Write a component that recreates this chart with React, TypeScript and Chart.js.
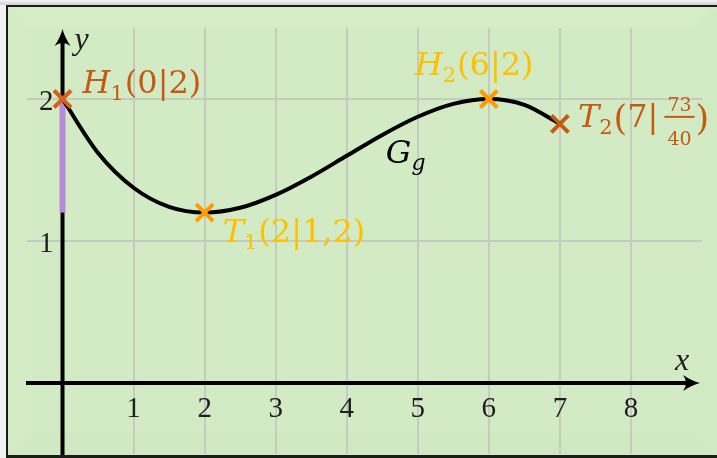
import { useEffect, useRef } from "react";
import { Chart, registerables } from "chart.js";

Chart.register(...registerables);

// Graph G_g, sampled every half unit on [0, 7]
const CURVE_X = [0, 0.5, 1, 1.5, 2, 2.5, 3, 3.5, 4, 4.5, 5, 5.5, 6, 6.5, 7];
const CURVE_Y = [2, 1.62, 1.375, 1.24, 1.2, 1.234, 1.325, 1.453, 1.6, 1.747, 1.875, 1.966, 2, 1.959, 1.825];

// Extreme / end points
const POINT_NAMES = ["H", "T", "H", "T"];
const POINT_INDEX = ["1", "1", "2", "2"];
const POINT_X = [0, 2, 6, 7];
const POINT_Y = [2, 1.2, 2, 1.825];
const POINT_X_TEXT = ["0", "2", "6", "7"];
const POINT_Y_TEXT = ["2", "1,2", "2", "73/40"];

// Axis ticks
const X_TICKS = [1, 2, 3, 4, 5, 6, 7, 8];
const Y_TICKS = [1, 2];

// Highlighted stretch on the y-axis
const SEGMENT_Y = [1.2, 2];

// Styling
const MARKER_COLORS = ["#D4621C", "#FF9A00", "#FF9A00", "#C55A11"];
const LABEL_COLORS = ["#C55A11", "#FFC000", "#FFC000", "#C55A11"];
const LABEL_OFFSETS = [
  [20, -6],
  [18, 29],
  [-74, -24],
  [18, 3],
];
const GRAPH_NAME_AT = { x: 4.55, y: 1.55 };

const LABEL_FONT = "'DejaVu Serif', serif";
const TICK_FONT = "'Liberation Serif', serif";

type Part = { t: string; font: string; dy?: number; gap?: number };

function drawParts(ctx: CanvasRenderingContext2D, x: number, y: number, parts: Part[], color: string) {
  ctx.fillStyle = color;
  ctx.textAlign = "left";
  ctx.textBaseline = "alphabetic";
  let cx = x;
  for (const p of parts) {
    ctx.font = p.font;
    ctx.fillText(p.t, cx, y + (p.dy || 0));
    cx += ctx.measureText(p.t).width + (p.gap || 0);
  }
  return cx;
}

function arrowHead(ctx: CanvasRenderingContext2D, tx: number, ty: number, dirX: number, dirY: number) {
  // stealth-like head pointing along (dirX, dirY)
  const L = 17;
  const W = 8;
  const px = -dirY;
  const py = dirX;
  const bx = tx - dirX * L;
  const by = ty - dirY * L;
  ctx.beginPath();
  ctx.moveTo(tx, ty);
  ctx.quadraticCurveTo(tx - dirX * 8 + px * 2, ty - dirY * 8 + py * 2, bx + px * W, by + py * W);
  ctx.quadraticCurveTo(tx - dirX * 11, ty - dirY * 11, bx - px * W, by - py * W);
  ctx.quadraticCurveTo(tx - dirX * 8 - px * 2, ty - dirY * 8 - py * 2, tx, ty);
  ctx.closePath();
  ctx.fillStyle = "#000";
  ctx.fill();
}

const framePlugin = {
  id: "frame",
  beforeDraw(chart: any) {
    const ctx: CanvasRenderingContext2D = chart.ctx;
    const W = chart.width;
    const H = chart.height;
    ctx.save();
    const top = ctx.createLinearGradient(0, 0, 0, 5);
    top.addColorStop(0, "#f4f4f4");
    top.addColorStop(1, "#cfcfcf");
    ctx.fillStyle = "#f2f2f2";
    ctx.fillRect(0, 0, W, H);
    ctx.fillStyle = top;
    ctx.fillRect(0, 0, W, 5);
    ctx.fillStyle = "#1c1c1c";
    ctx.fillRect(6, 5, W - 6, H - 5);
    // face
    const x0 = 8, y0 = 7, x1 = W, y1 = H - 3;
    ctx.fillStyle = "#d3ebc4";
    ctx.fillRect(x0, y0, x1 - x0, y1 - y0);
    // soft bevel
    const b = 22;
    const band = (pts: number[][], c: string) => {
      ctx.beginPath();
      ctx.moveTo(pts[0][0], pts[0][1]);
      for (let i = 1; i < pts.length; i++) ctx.lineTo(pts[i][0], pts[i][1]);
      ctx.closePath();
      ctx.fillStyle = c;
      ctx.fill();
    };
    band([[x0, y0], [x1, y0], [x1 - b, y0 + b], [x0 + b, y0 + b]], "#d5ecc7");
    band([[x0, y0], [x0 + b, y0 + b], [x0 + b, y1 - b], [x0, y1]], "#d4ecc5");
    band([[x1, y0], [x1, y1], [x1 - b, y1 - b], [x1 - b, y0 + b]], "#d2eac3");
    band([[x0, y1], [x1, y1], [x1 - b, y1 - b], [x0 + b, y1 - b]], "#d1e9c2");
    ctx.fillStyle = "#d3ebc4";
    ctx.fillRect(x0 + b, y0 + b, x1 - x0 - 2 * b, y1 - y0 - 2 * b);
    ctx.restore();
  },
  beforeDatasetsDraw(chart: any) {
    const ctx: CanvasRenderingContext2D = chart.ctx;
    const xs = chart.scales.x;
    const ys = chart.scales.y;
    const area = chart.chartArea;
    ctx.save();
    // grid
    ctx.strokeStyle = "#c6cbc0";
    ctx.lineWidth = 2;
    ctx.beginPath();
    for (const t of X_TICKS) {
      const px = Math.round(xs.getPixelForValue(t));
      ctx.moveTo(px, area.top);
      ctx.lineTo(px, area.bottom);
    }
    for (const t of Y_TICKS) {
      const py = Math.round(ys.getPixelForValue(t));
      ctx.moveTo(area.left, py);
      ctx.lineTo(area.right, py);
    }
    ctx.stroke();

    // axes
    const ox = xs.getPixelForValue(0);
    const oy = ys.getPixelForValue(0);
    ctx.strokeStyle = "#000";
    ctx.lineWidth = 4;
    ctx.beginPath();
    ctx.moveTo(area.left - 1, oy);
    ctx.lineTo(area.right - 8, oy);
    ctx.stroke();
    ctx.beginPath();
    ctx.moveTo(ox, area.bottom + 1);
    ctx.lineTo(ox, area.top + 8);
    ctx.stroke();
    arrowHead(ctx, area.right - 2, oy, 1, 0);
    arrowHead(ctx, ox, area.top + 1, 0, -1);

    // tick labels
    ctx.fillStyle = "#1e1e1e";
    ctx.font = `29px ${TICK_FONT}`;
    ctx.textBaseline = "alphabetic";
    ctx.textAlign = "center";
    for (const t of X_TICKS) {
      ctx.fillText(String(t), xs.getPixelForValue(t), oy + 34);
    }
    ctx.textAlign = "right";
    for (const t of Y_TICKS) {
      ctx.fillText(String(t), ox - 9, ys.getPixelForValue(t) + 11);
    }
    // axis names
    ctx.font = `italic 32px ${TICK_FONT}`;
    ctx.textAlign = "left";
    ctx.fillText("y", ox + 12, area.top + 21);
    ctx.fillText("x", area.right - 27, oy - 13);
    ctx.restore();
  },
  afterDatasetsDraw(chart: any) {
    const ctx: CanvasRenderingContext2D = chart.ctx;
    const xs = chart.scales.x;
    const ys = chart.scales.y;
    ctx.save();
    const big = `32px ${LABEL_FONT}`;
    const ital = `italic 32px ${LABEL_FONT}`;
    const sub = `21px ${LABEL_FONT}`;
    for (let i = 0; i < POINT_X.length; i++) {
      const px = xs.getPixelForValue(POINT_X[i]) + LABEL_OFFSETS[i][0];
      const py = ys.getPixelForValue(POINT_Y[i]) + LABEL_OFFSETS[i][1];
      const color = LABEL_COLORS[i];
      const yText = POINT_Y_TEXT[i];
      if (yText.includes("/")) {
        const [num, den] = yText.split("/");
        let cx = drawParts(ctx, px, py, [
          { t: POINT_NAMES[i], font: ital },
          { t: POINT_INDEX[i], font: sub, dy: 7, gap: 1 },
          { t: "(", font: `35px ${LABEL_FONT}`, dy: 3 },
          { t: POINT_X_TEXT[i] + "|", font: big },
        ], color);
        ctx.font = `19px ${LABEL_FONT}`;
        const w = Math.max(ctx.measureText(num).width, ctx.measureText(den).width) + 6;
        cx += 6;
        ctx.textAlign = "center";
        ctx.fillText(num, cx + w / 2, py - 16);
        ctx.fillText(den, cx + w / 2, py + 18);
        ctx.fillRect(cx, py - 11, w, 2);
        drawParts(ctx, cx + w + 1, py, [{ t: ")", font: `35px ${LABEL_FONT}`, dy: 3 }], color);
      } else {
        drawParts(ctx, px, py, [
          { t: POINT_NAMES[i], font: ital },
          { t: POINT_INDEX[i], font: sub, dy: 7, gap: 1 },
          { t: "(" + POINT_X_TEXT[i] + "|" + yText + ")", font: big },
        ], color);
      }
    }
    // graph name
    drawParts(ctx, xs.getPixelForValue(GRAPH_NAME_AT.x), ys.getPixelForValue(GRAPH_NAME_AT.y), [
      { t: "G", font: ital },
      { t: "g", font: `italic 22px ${LABEL_FONT}`, dy: 7 },
    ], "#000");
    ctx.restore();
  },
};

export default function App() {
  const ref = useRef<HTMLCanvasElement | null>(null);
  useEffect(() => {
    if (!ref.current) return;
    const curve = CURVE_X.map((x, i) => ({ x, y: CURVE_Y[i] }));
    const points = POINT_X.map((x, i) => ({ x, y: POINT_Y[i] }));
    const segment = SEGMENT_Y.map((y) => ({ x: 0, y }));
    const chart = new Chart(ref.current, {
      type: "scatter",
      data: {
        datasets: [
          {
            type: "line",
            data: segment,
            borderColor: "#B98AD9",
            borderWidth: 6,
            pointRadius: 0,
            order: 3,
          } as any,
          {
            type: "line",
            data: curve,
            borderColor: "#000",
            borderWidth: 4,
            pointRadius: 0,
            cubicInterpolationMode: "monotone",
            borderCapStyle: "round",
            order: 2,
          } as any,
          {
            type: "scatter",
            data: points,
            pointStyle: "crossRot",
            pointRadius: 12,
            pointBorderWidth: 4,
            pointBorderColor: MARKER_COLORS,
            pointBackgroundColor: MARKER_COLORS,
            order: 1,
          } as any,
        ],
      },
      options: {
        animation: false,
        responsive: false,
        maintainAspectRatio: false,
        events: [],
        layout: { autoPadding: false, padding: { left: 27, right: 15, top: 28, bottom: 4 } },
        plugins: { legend: { display: false }, tooltip: { enabled: false } },
        scales: {
          x: { type: "linear", min: -0.5, max: 9, display: false },
          y: { type: "linear", min: -0.5, max: 2.5, display: false },
        },
      },
      plugins: [framePlugin],
    });
    return () => chart.destroy();
  }, []);
  return (
    <div style={{ position: "fixed", left: 0, top: 0, width: 717, height: 458 }}>
      <canvas ref={ref} width={717} height={458} style={{ display: "block" }} />
    </div>
  );
}
